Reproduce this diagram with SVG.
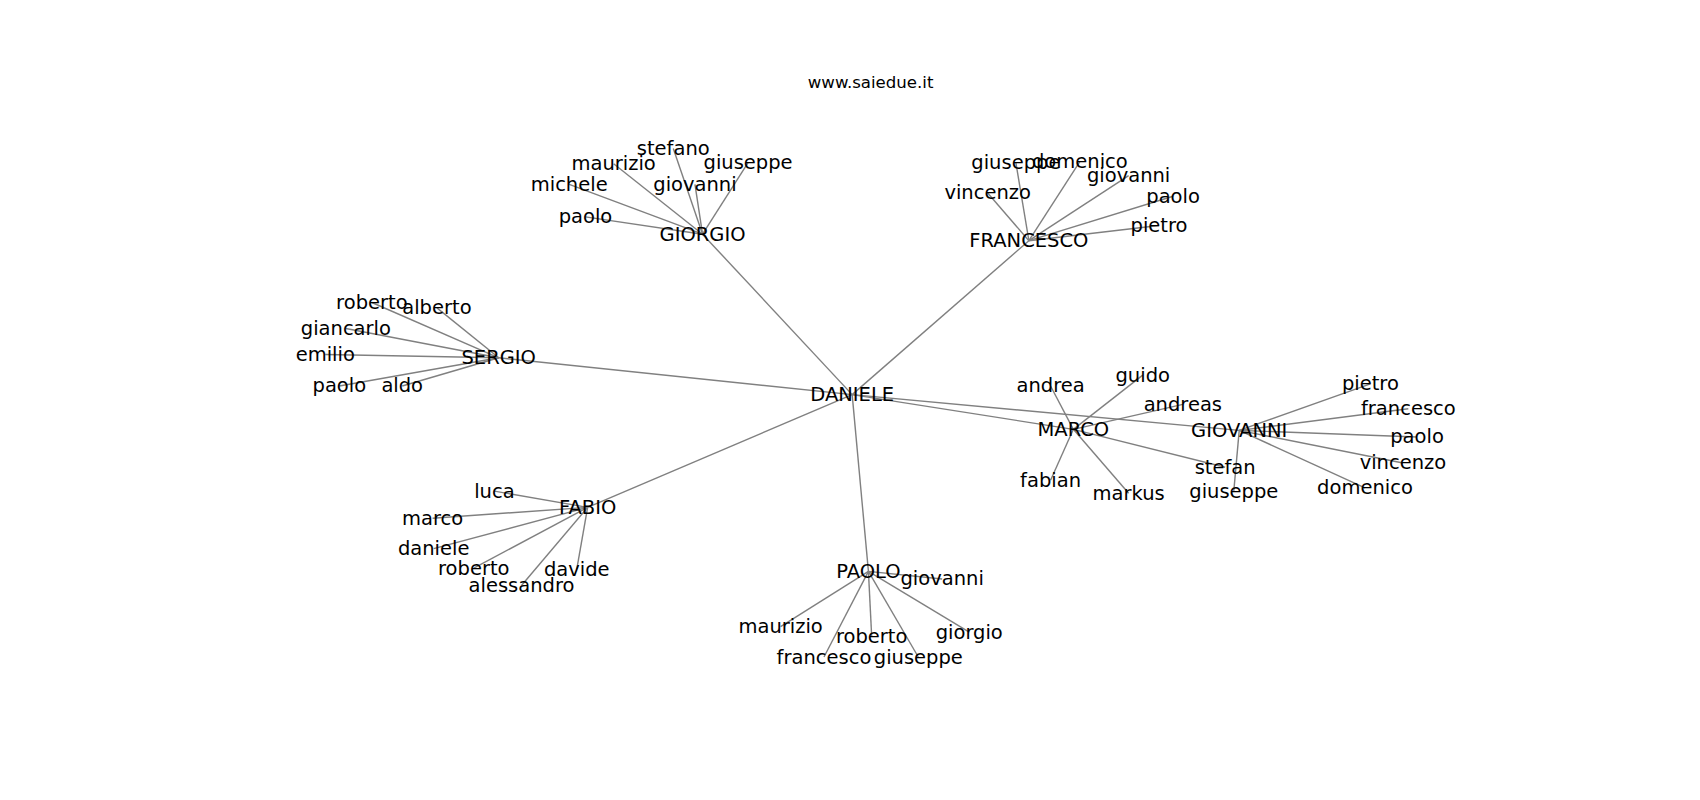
<svg xmlns="http://www.w3.org/2000/svg" width="1700" height="800" viewBox="0 0 1700 800">
<style>
  .bg { fill: #ffffff; }
  .edge { stroke: #808080; stroke-width: 1.3; fill: none; }
  text { font-family: "DejaVu Sans", "Liberation Sans", sans-serif; fill: #000000; text-anchor: middle; dominant-baseline: central; }
  .lbl { font-size: 18px; }
  .title { font-size: 15.3px; }
</style>
<rect class="bg" x="0" y="0" width="1700" height="800"/>
<g transform="scale(1.08418)">
  <text class="title" x="803" y="76">www.saiedue.it</text>
  <g id="connectors">
    <!-- hub edges -->
    <line class="edge" x1="786" y1="364" x2="648" y2="216"/>
    <line class="edge" x1="786" y1="364" x2="949" y2="222"/>
    <line class="edge" x1="786" y1="364" x2="460" y2="330"/>
    <line class="edge" x1="786" y1="364" x2="990" y2="396"/>
    <line class="edge" x1="786" y1="364" x2="1143" y2="397"/>
    <line class="edge" x1="786" y1="364" x2="542" y2="468"/>
    <line class="edge" x1="786" y1="364" x2="801" y2="527"/>
    <!-- GIORGIO -->
    <line class="edge" x1="648" y1="216" x2="621" y2="137"/>
    <line class="edge" x1="648" y1="216" x2="566" y2="151"/>
    <line class="edge" x1="648" y1="216" x2="690" y2="150"/>
    <line class="edge" x1="648" y1="216" x2="525" y2="170"/>
    <line class="edge" x1="648" y1="216" x2="641" y2="170"/>
    <line class="edge" x1="648" y1="216" x2="540" y2="200"/>
    <!-- FRANCESCO -->
    <line class="edge" x1="949" y1="222" x2="937" y2="150"/>
    <line class="edge" x1="949" y1="222" x2="996" y2="149"/>
    <line class="edge" x1="949" y1="222" x2="1041" y2="162"/>
    <line class="edge" x1="949" y1="222" x2="911" y2="178"/>
    <line class="edge" x1="949" y1="222" x2="1082" y2="181"/>
    <line class="edge" x1="949" y1="222" x2="1069" y2="208"/>
    <!-- SERGIO -->
    <line class="edge" x1="460" y1="330" x2="343" y2="279"/>
    <line class="edge" x1="460" y1="330" x2="403" y2="284"/>
    <line class="edge" x1="460" y1="330" x2="319" y2="303"/>
    <line class="edge" x1="460" y1="330" x2="300" y2="327"/>
    <line class="edge" x1="460" y1="330" x2="313" y2="356"/>
    <line class="edge" x1="460" y1="330" x2="371" y2="356"/>
    <!-- FABIO -->
    <line class="edge" x1="542" y1="468" x2="456" y2="453"/>
    <line class="edge" x1="542" y1="468" x2="399" y2="478"/>
    <line class="edge" x1="542" y1="468" x2="400" y2="506"/>
    <line class="edge" x1="542" y1="468" x2="437" y2="524"/>
    <line class="edge" x1="542" y1="468" x2="481" y2="540"/>
    <line class="edge" x1="542" y1="468" x2="532" y2="525"/>
    <!-- PAOLO -->
    <line class="edge" x1="801" y1="527" x2="869" y2="534"/>
    <line class="edge" x1="801" y1="527" x2="720" y2="578"/>
    <line class="edge" x1="801" y1="527" x2="804" y2="587"/>
    <line class="edge" x1="801" y1="527" x2="760" y2="606"/>
    <line class="edge" x1="801" y1="527" x2="847" y2="606"/>
    <line class="edge" x1="801" y1="527" x2="894" y2="583"/>
    <!-- MARCO -->
    <line class="edge" x1="990" y1="396" x2="969" y2="356"/>
    <line class="edge" x1="990" y1="396" x2="1054" y2="346"/>
    <line class="edge" x1="990" y1="396" x2="1091" y2="373"/>
    <line class="edge" x1="990" y1="396" x2="969" y2="443"/>
    <line class="edge" x1="990" y1="396" x2="1041" y2="455"/>
    <line class="edge" x1="990" y1="396" x2="1130" y2="431"/>
    <!-- GIOVANNI -->
    <line class="edge" x1="1143" y1="397" x2="1264" y2="354"/>
    <line class="edge" x1="1143" y1="397" x2="1299" y2="377"/>
    <line class="edge" x1="1143" y1="397" x2="1307" y2="403"/>
    <line class="edge" x1="1143" y1="397" x2="1294" y2="427"/>
    <line class="edge" x1="1143" y1="397" x2="1259" y2="450"/>
    <line class="edge" x1="1143" y1="397" x2="1138" y2="453"/>
  </g>
  <g id="nodes">
    <g id="daniele"><text class="lbl" x="786" y="364">DANIELE</text></g>
    <g id="giorgio"><text class="lbl" x="648" y="216">GIORGIO</text></g>
    <g id="francesco"><text class="lbl" x="949" y="222">FRANCESCO</text></g>
    <g id="sergio"><text class="lbl" x="460" y="330">SERGIO</text></g>
    <g id="marco"><text class="lbl" x="990" y="396">MARCO</text></g>
    <g id="giovanni"><text class="lbl" x="1143" y="397">GIOVANNI</text></g>
    <g id="fabio"><text class="lbl" x="542" y="468">FABIO</text></g>
    <g id="paolo"><text class="lbl" x="801" y="527">PAOLO</text></g>

    <g id="giorgio-stefano"><text class="lbl" x="621" y="137">stefano</text></g>
    <g id="giorgio-maurizio"><text class="lbl" x="566" y="151">maurizio</text></g>
    <g id="giorgio-giuseppe"><text class="lbl" x="690" y="150">giuseppe</text></g>
    <g id="giorgio-michele"><text class="lbl" x="525" y="170">michele</text></g>
    <g id="giorgio-giovanni"><text class="lbl" x="641" y="170">giovanni</text></g>
    <g id="giorgio-paolo"><text class="lbl" x="540" y="200">paolo</text></g>

    <g id="francesco-giuseppe"><text class="lbl" x="937" y="150">giuseppe</text></g>
    <g id="francesco-domenico"><text class="lbl" x="996" y="149">domenico</text></g>
    <g id="francesco-giovanni"><text class="lbl" x="1041" y="162">giovanni</text></g>
    <g id="francesco-vincenzo"><text class="lbl" x="911" y="178">vincenzo</text></g>
    <g id="francesco-paolo"><text class="lbl" x="1082" y="181">paolo</text></g>
    <g id="francesco-pietro"><text class="lbl" x="1069" y="208">pietro</text></g>

    <g id="sergio-roberto"><text class="lbl" x="343" y="279">roberto</text></g>
    <g id="sergio-alberto"><text class="lbl" x="403" y="284">alberto</text></g>
    <g id="sergio-giancarlo"><text class="lbl" x="319" y="303">giancarlo</text></g>
    <g id="sergio-emilio"><text class="lbl" x="300" y="327">emilio</text></g>
    <g id="sergio-paolo"><text class="lbl" x="313" y="356">paolo</text></g>
    <g id="sergio-aldo"><text class="lbl" x="371" y="356">aldo</text></g>

    <g id="fabio-luca"><text class="lbl" x="456" y="453">luca</text></g>
    <g id="fabio-marco"><text class="lbl" x="399" y="478">marco</text></g>
    <g id="fabio-daniele"><text class="lbl" x="400" y="506">daniele</text></g>
    <g id="fabio-roberto"><text class="lbl" x="437" y="524">roberto</text></g>
    <g id="fabio-alessandro"><text class="lbl" x="481" y="540">alessandro</text></g>
    <g id="fabio-davide"><text class="lbl" x="532" y="525">davide</text></g>

    <g id="paolo-giovanni"><text class="lbl" x="869" y="534">giovanni</text></g>
    <g id="paolo-maurizio"><text class="lbl" x="720" y="578">maurizio</text></g>
    <g id="paolo-roberto"><text class="lbl" x="804" y="587">roberto</text></g>
    <g id="paolo-francesco"><text class="lbl" x="760" y="606">francesco</text></g>
    <g id="paolo-giuseppe"><text class="lbl" x="847" y="606">giuseppe</text></g>
    <g id="paolo-giorgio"><text class="lbl" x="894" y="583">giorgio</text></g>

    <g id="marco-andrea"><text class="lbl" x="969" y="356">andrea</text></g>
    <g id="marco-guido"><text class="lbl" x="1054" y="346">guido</text></g>
    <g id="marco-andreas"><text class="lbl" x="1091" y="373">andreas</text></g>
    <g id="marco-fabian"><text class="lbl" x="969" y="443">fabian</text></g>
    <g id="marco-markus"><text class="lbl" x="1041" y="455">markus</text></g>
    <g id="marco-stefan"><text class="lbl" x="1130" y="431">stefan</text></g>

    <g id="giovanni-pietro"><text class="lbl" x="1264" y="354">pietro</text></g>
    <g id="giovanni-francesco"><text class="lbl" x="1299" y="377">francesco</text></g>
    <g id="giovanni-paolo"><text class="lbl" x="1307" y="403">paolo</text></g>
    <g id="giovanni-vincenzo"><text class="lbl" x="1294" y="427">vincenzo</text></g>
    <g id="giovanni-domenico"><text class="lbl" x="1259" y="450">domenico</text></g>
    <g id="giovanni-giuseppe"><text class="lbl" x="1138" y="453">giuseppe</text></g>
  </g>
</g>
</svg>
